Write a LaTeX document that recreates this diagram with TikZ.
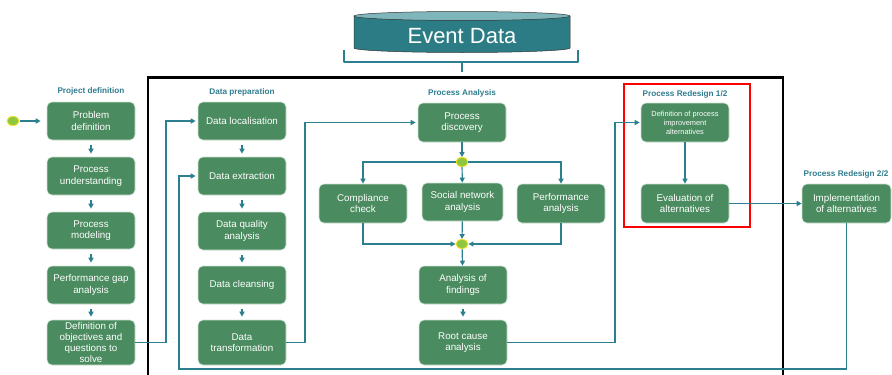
\documentclass[tikz,border=0pt]{standalone}
\usepackage{fontspec}
\setmainfont{Liberation Sans}
\usetikzlibrary{arrows.meta,shapes.geometric}

\definecolor{boxgreen}{HTML}{4A8B5F}
\definecolor{boxedge}{HTML}{CFE3D5}
\definecolor{flow}{HTML}{2B7F8E}
\definecolor{heading}{HTML}{2F7D8F}
\definecolor{cylbody}{HTML}{2B7C85}
\definecolor{cyltop}{HTML}{7FB6BC}
\definecolor{gatefill}{HTML}{8DC63F}
\definecolor{gateedge}{HTML}{F0E020}

\tikzset{
  box/.style={draw=boxedge, line width=0.6pt, fill=boxgreen, rounded corners=5pt,
    text=white, align=center, inner sep=1pt,
    font=\fontsize{9.8}{11.5}\selectfont},
  smallbox/.style={box, font=\fontsize{7.4}{9}\selectfont},
  heading/.style={text=heading, font=\fontsize{8.2}{10}\selectfont\bfseries},
  gate/.style={ellipse, draw=gateedge, line width=0.9pt, fill=gatefill,
    minimum width=12pt, minimum height=9pt, inner sep=0pt},
  flowline/.style={draw=flow, line width=1.2pt},
  flowarrow/.style={flowline, -{Triangle[length=5pt,width=5pt]}},
  shortarrow/.style={flowarrow, shorten <=5pt, shorten >=3pt},
}

\begin{document}
\begin{tikzpicture}[x=1pt, y=-1pt]
\useasboundingbox (0,0) rectangle (892,375);
\clip (0,0) rectangle (892,375);
\fill[white] (0,0) rectangle (892,375);

% event data store
\fill[cylbody] (354,16) -- (354,48) arc[start angle=180, end angle=360, x radius=108pt, y radius=4.5pt] -- (570,16) -- cycle;
\draw[black!80, line width=0.5pt] (354,16) -- (354,48) arc[start angle=180, end angle=360, x radius=108pt, y radius=4.5pt] -- (570,16);
\draw[black!80, line width=0.5pt, fill=cyltop] (462,16) ellipse[x radius=108pt, y radius=4.5pt];
\node[text=white, font=\fontsize{22}{24}\selectfont] (event) at (462,36) {Event Data};

% brace below the store
\draw[flow, line width=1.6pt, line join=round] (344,50) -- (344,62) -- (578,62) -- (578,50);
\draw[flow, line width=1.6pt] (462,62) -- (462,72);

% frame around the data-driven phases
\draw[black, line width=2.6pt] (148,77.5) rectangle (783,400);
% highlighted redesign phase
\draw[red, line width=1.8pt] (624,84) rectangle (750,227);

% headings
\node[heading] (hproj) at (91,91) {Project definition};
\node[heading] (hprep) at (242,92) {Data preparation};
\node[heading] (hana) at (462,93) {Process Analysis};
\node[heading] (hred1) at (685,94) {Process Redesign 1/2};
\node[heading] (hred2) at (846,174) {Process Redesign 2/2};

% project definition
\node[gate] (start) at (13,121) {};
\node[box, minimum width=88pt, minimum height=38pt] (prob) at (91,121) {Problem\\definition};
\node[box, minimum width=88pt, minimum height=38pt] (und) at (91,176) {Process\\understanding};
\node[box, minimum width=88pt, minimum height=37pt] (model) at (91,230.5) {Process\\modeling};
\node[box, minimum width=88pt, minimum height=38pt] (gap) at (91,285) {Performance gap\\analysis};
\node[box, minimum width=88pt, minimum height=45pt, font=\fontsize{9.8}{11}\selectfont] (obj) at (91,342.5) {Definition of\\objectives and\\questions to\\solve};

% data preparation
\node[box, minimum width=88pt, minimum height=38pt] (dloc) at (242,121) {Data localisation};
\node[box, minimum width=88pt, minimum height=38pt] (dext) at (242,176) {Data extraction};
\node[box, minimum width=88pt, minimum height=38pt] (dqual) at (242,231) {Data quality\\analysis};
\node[box, minimum width=88pt, minimum height=38pt] (dclean) at (242,285) {Data cleansing};
\node[box, minimum width=88pt, minimum height=45pt] (dtrans) at (242,342.5) {Data\\transformation};

% process analysis
\node[box, minimum width=88pt, minimum height=39pt] (disc) at (462,122.5) {Process\\discovery};
\node[gate] (split) at (462,162) {};
\node[box, minimum width=88pt, minimum height=39pt] (comp) at (363,203.5) {Compliance\\check};
\node[box, minimum width=81pt, minimum height=38pt] (social) at (462.5,202) {Social network\\analysis};
\node[box, minimum width=88pt, minimum height=39pt] (perf) at (561,203.5) {Performance\\analysis};
\node[gate] (join) at (462,244) {};
\node[box, minimum width=88pt, minimum height=38pt] (find) at (463,285) {Analysis of\\findings};
\node[box, minimum width=88pt, minimum height=45pt] (root) at (463,342.5) {Root cause\\analysis};

% process redesign
\node[smallbox, minimum width=88pt, minimum height=39pt] (alt) at (685,122.5) {Definition of process\\improvement\\alternatives};
\node[box, minimum width=88pt, minimum height=39pt] (eval) at (685,203.5) {Evaluation of\\alternatives};
\node[box, minimum width=89pt, minimum height=39pt] (impl) at (846.5,203.5) {Implementation\\of alternatives};

% corner points of the long connectors
\coordinate (c1) at (166,342.5);
\coordinate (c2) at (305,342.5);
\coordinate (c3) at (615,342.5);
\coordinate (loop) at (179,369);

% connectors
\draw[flowarrow, shorten <=1pt, shorten >=6pt] (start) -- (prob);
\draw[shortarrow] (prob) -- (und);
\draw[shortarrow] (und) -- (model);
\draw[shortarrow] (model) -- (gap);
\draw[shortarrow] (gap) -- (obj);

\draw[shortarrow] (dloc) -- (dext);
\draw[shortarrow] (dext) -- (dqual);
\draw[shortarrow] (dqual) -- (dclean);
\draw[shortarrow] (dclean) -- (dtrans);

\draw[flowarrow, shorten >=2pt] (obj.east) -- (c1) |- (dloc.west);
\draw[flowarrow, shorten >=2pt] (dtrans.east) -- (c2) |- (disc.west);
\draw[flowarrow, shorten >=1pt] (root.east) -- (c3) |- (alt.west);
\draw[flowarrow, shorten >=2pt] (impl.south) |- (loop) |- (dext.west);

\draw[flowarrow] (disc) -- (split);
\draw[flowarrow] (split) -| (comp.north);
\draw[flowarrow] (split) -| (perf.north);
\draw[flowarrow] (split) -- (social);
\draw[flowarrow] (comp.south) |- (join.west);
\draw[flowarrow] (perf.south) |- (join.east);
\draw[flowarrow] (social) -- (join);
\draw[flowarrow] (join) -- (find);
\draw[shortarrow] (find) -- (root);

\draw[flowarrow] (alt) -- (eval);
\draw[flowarrow] (eval) -- (impl);
\end{tikzpicture}
\end{document}
